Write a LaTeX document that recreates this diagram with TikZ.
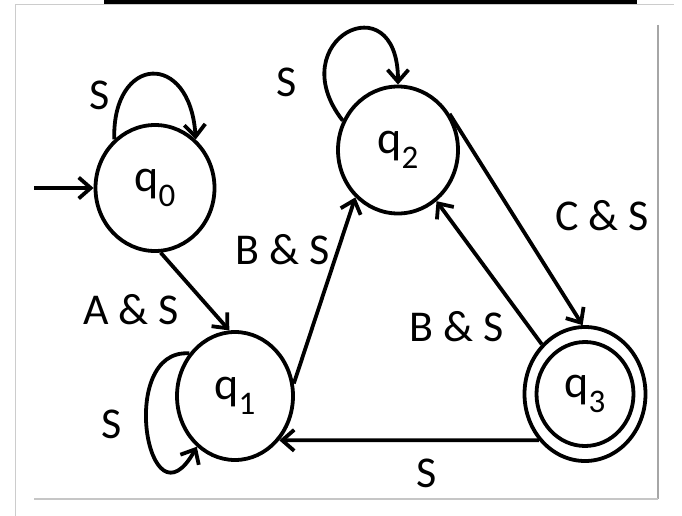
\documentclass[tikz,border=0pt]{standalone}
\usepackage{fontspec}
\setmainfont{Carlito}
\usetikzlibrary{arrows.meta,shapes.geometric}
\newcommand{\qsub}[1]{q\raisebox{-0.32em}{\fontsize{33}{33}\selectfont #1}}
\begin{document}
\begin{tikzpicture}[x=1pt,y=-1pt,
  state/.style={ellipse,draw,line width=3.8pt,minimum width=119pt,minimum height=126pt,inner sep=0pt,font=\fontsize{46}{50}\selectfont},
  edge/.style={line width=3.8pt,-{Straight Barb[length=12pt,width=21pt]}},
  lbl/.style={font=\fontsize{44}{48}\selectfont,inner sep=0pt}]
\fill[white] (0,0) rectangle (682,516);
\useasboundingbox (0,0) rectangle (682,516);
% frame
\draw[line width=1pt, gray!40] (15,516) -- (15,5) -- (674,5);
\draw[line width=1.5pt, gray!70] (658,25) -- (658,499);
\draw[line width=1.5pt, gray!45] (34,499) -- (658,499);
\fill[black] (104,0) rectangle (637,4);
% states
\node[state] (q0) at (155,188) {\qsub{0}};
\node[state, minimum width=116pt, minimum height=128pt] (q1) at (235,396) {\qsub{1}};
\node[state, minimum width=120pt, minimum height=127pt] (q2) at (398,150) {\qsub{2}};
\node[state, minimum width=121pt, minimum height=134pt] (q3) at (585,394) {\qsub{3}};
\draw[line width=3.8pt] (q3.center) ellipse [x radius=48.5, y radius=52];
% edges
\coordinate (init) at (34,188);
\draw[edge] (init) -- (q0.west);
\draw[edge] (q0.130) .. controls (112,55) and (190,50) .. (q0.50);
\draw[edge] (q0.275) -- (q1.95);
\draw[edge] (q1.137) .. controls (116,348) and (148,535) .. (q1.233);
\draw[edge] (q1.12) -- (q2.228);
\draw[edge] (q2.152) .. controls (280,40) and (398,-20) .. (q2.90);
\draw[edge] (q2.35) -- (q3.92);
\draw[edge] (q3.131) -- (q2.307);
\draw[edge] (q3.225) -- (q1.315);
% labels
\node[lbl] (l0) at (100,95) {S};
\node[lbl] (l1) at (131,310) {A \& S};
\node[lbl] (l2) at (112,424) {S};
\node[lbl] (l3) at (283,250) {B \& S};
\node[lbl] (l4) at (287,82) {S};
\node[lbl] (l5) at (602,216) {C \& S};
\node[lbl] (l6) at (457,327) {B \& S};
\node[lbl] (l7) at (427,473) {S};
\end{tikzpicture}
\end{document}
